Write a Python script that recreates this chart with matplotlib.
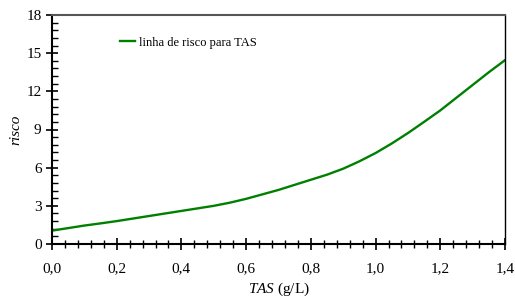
import matplotlib.pyplot as plt
from matplotlib.ticker import MultipleLocator, FuncFormatter

plt.rcParams['font.family'] = ['Liberation Serif', 'DejaVu Serif']
plt.rcParams['mathtext.fontset'] = 'custom'
plt.rcParams['mathtext.it'] = 'Liberation Serif:italic'
plt.rcParams['mathtext.rm'] = 'Liberation Serif'

tas = [0.0, 0.05, 0.1, 0.15, 0.2, 0.25, 0.3, 0.35, 0.4, 0.45, 0.5, 0.55, 0.6, 0.65,
       0.7, 0.75, 0.8, 0.85, 0.9, 0.95, 1.0, 1.05, 1.1, 1.15, 1.2, 1.25, 1.3, 1.35, 1.4]
risco = [1.05, 1.25, 1.45, 1.62, 1.8, 2.0, 2.2, 2.4, 2.6, 2.8, 3.0, 3.25, 3.55, 3.9,
         4.25, 4.65, 5.05, 5.45, 5.92, 6.5, 7.15, 7.9, 8.72, 9.6, 10.5, 11.5, 12.5, 13.5, 14.45]

fig = plt.figure(figsize=(5.15, 2.99), dpi=100)
ax = fig.add_axes([52/515, 55/299, 453/515, 229/299])
ax.plot(tas, risco, color='#008000', lw=1.7, label='linha de risco para TAS')

ax.set_xlim(0, 1.4)
ax.set_ylim(0, 18)
ax.xaxis.set_major_locator(MultipleLocator(0.2))
ax.xaxis.set_minor_locator(MultipleLocator(0.04))
ax.yaxis.set_major_locator(MultipleLocator(3))
ax.yaxis.set_minor_locator(MultipleLocator(0.6))
ax.xaxis.set_major_formatter(FuncFormatter(lambda v, p: f'{v:.1f}'.replace('.', ',')))
ax.tick_params(axis='x', which='major', direction='inout', length=8, width=1.2, labelsize=11, pad=9)
ax.tick_params(axis='x', which='minor', direction='inout', length=6, width=1)
ax.tick_params(axis='y', which='major', direction='inout', length=8, width=1.2, labelsize=11)
ax.tick_params(axis='y', which='minor', direction='in', length=4, width=1)

ax.spines['left'].set_linewidth(1.5)
ax.spines['bottom'].set_linewidth(1.5)
ax.spines['top'].set_color('#555555')
ax.spines['top'].set_linewidth(1.5)
ax.spines['right'].set_linewidth(1)

ax.set_ylabel('risco', fontstyle='italic', fontsize=11, labelpad=3)
ax.set_xlabel('$\\mathit{TAS}$ (g/L)', fontsize=11, labelpad=4)

ax.legend(loc='upper left', bbox_to_anchor=(0.125, 0.955), frameon=False, fontsize=9,
          handlelength=1.2, handletextpad=0.3)

fig.savefig('out.png', dpi=100)
